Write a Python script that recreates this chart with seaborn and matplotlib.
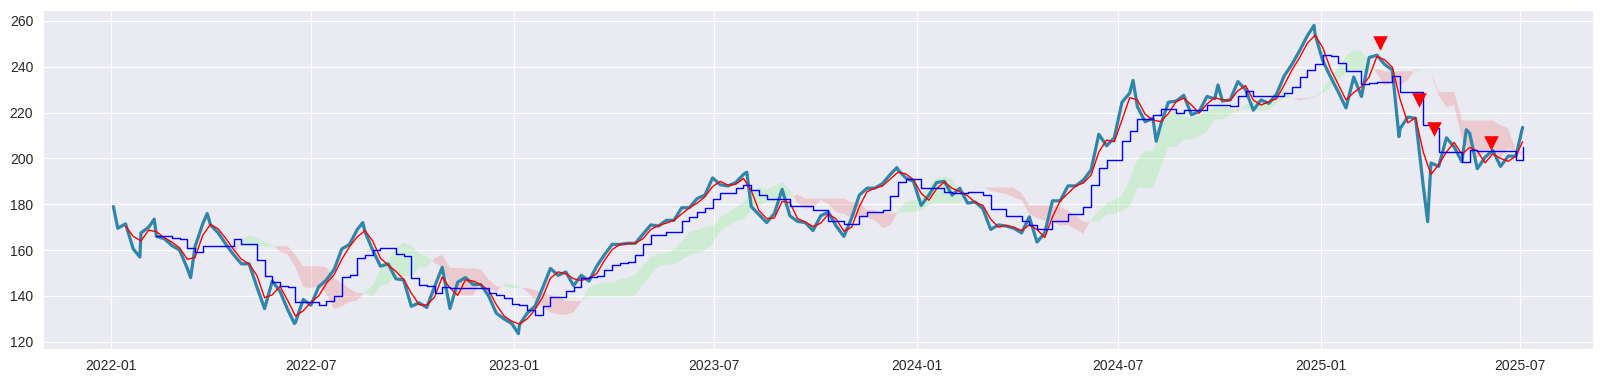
import numpy as np
import pandas as pd
import matplotlib
matplotlib.use('Agg')
import matplotlib.pyplot as plt
import matplotlib.dates as mdates
from matplotlib.ticker import MultipleLocator
import seaborn as sns

# Weekly (Friday) closes
close_2022 = [169.5, 171.5, 160.5, 167.5, 170.0, 166.0, 165.0, 162.0, 160.0, 152.0,
              161.5, 171.5, 171.0, 167.5, 162.5, 158.0, 154.0, 154.0, 144.0, 134.5,
              146.5, 142.0, 134.0, 128.5, 138.5, 136.0, 144.0, 147.0, 151.5, 160.5,
              162.5, 169.0, 168.0, 160.0, 153.0, 154.0, 147.5, 147.0, 135.5, 137.0,
              135.0, 144.0, 152.5, 134.5, 146.0, 148.0, 145.0, 145.0, 140.0, 132.5,
              130.0, 128.0]
close_2023 = [127.5, 132.5, 135.5, 143.5, 152.0, 149.0, 150.5, 144.5, 149.0, 146.5,
              153.0, 158.0, 162.5, 162.5, 163.0, 163.0, 167.0, 171.0, 170.5, 173.0,
              173.0, 178.5, 178.5, 182.5, 184.0, 191.5, 188.5, 188.0, 189.5, 193.0,
              179.0, 175.5, 172.0, 176.0, 186.5, 175.0, 172.5, 172.0, 168.5, 175.0,
              176.5, 170.5, 166.0, 174.0, 184.0, 187.0, 187.0, 189.0, 193.0, 195.0,
              191.5, 190.0]
close_2024 = [179.5, 184.0, 189.5, 190.0, 184.0, 187.0, 180.5, 181.0, 178.0, 169.0,
              171.0, 170.5, 169.5, 167.5, 174.5, 163.5, 167.5, 181.5, 181.5, 188.0,
              188.0, 190.5, 195.0, 210.5, 205.5, 209.0, 224.5, 228.5, 222.5, 216.0,
              217.5, 214.5, 224.5, 225.0, 227.5, 219.0, 220.5, 227.0, 226.0, 225.0,
              225.5, 233.5, 230.0, 221.0, 225.5, 224.0, 228.0, 236.0, 241.0, 247.0,
              253.5, 254.0]
close_2025 = [242.5, 235.5, 229.0, 222.0, 235.5, 227.0, 244.0, 245.0, 241.0, 238.5,
              213.0, 218.0, 217.5, 188.0, 198.0, 196.5, 209.0, 205.0, 198.5, 211.0,
              195.5, 200.5, 203.5, 196.5, 201.0, 201.0, 213.5]

# a few intra-week highs / lows visible on the chart
extra_days = ['2022-01-03', '2022-01-27', '2022-02-09', '2022-03-14', '2022-03-29',
              '2022-06-16', '2022-08-17', '2023-01-05', '2023-07-31', '2023-12-14',
              '2024-07-15', '2024-08-05', '2024-09-30', '2024-12-26', '2025-03-13',
              '2025-04-08', '2025-05-13']
extra_close = [179.0, 157.0, 173.5, 148.0, 176.0, 128.0, 172.0, 123.6, 194.0, 196.0,
               234.0, 207.5, 232.0, 258.0, 209.5, 172.4, 212.5]

# sell signals
sell_days = ['2025-02-24', '2025-03-31', '2025-04-14', '2025-06-04']
sell_marks = [250.3, 225.5, 212.9, 206.7]

dates = (list(pd.date_range('2022-01-07', periods=52, freq='W-FRI'))
         + list(pd.date_range('2023-01-06', periods=52, freq='W-FRI'))
         + list(pd.date_range('2024-01-05', periods=52, freq='W-FRI'))
         + list(pd.date_range('2025-01-03', periods=26, freq='W-FRI'))
         + [pd.Timestamp('2025-07-03')])
weekly = pd.Series(close_2022 + close_2023 + close_2024 + close_2025, index=pd.DatetimeIndex(dates))


def mid(s, n):
    return (s.rolling(n).max() + s.rolling(n).min()) / 2


# Ichimoku lines on weekly data
tenkan = mid(weekly, 2)
kijun = mid(weekly, 6)
span_a = ((tenkan + kijun) / 2).shift(5)
span_b = mid(weekly, 11).shift(5)

price = pd.concat([weekly, pd.Series(extra_close, index=pd.to_datetime(extra_days))]).sort_index()

sns.set_style('darkgrid')
plt.rcParams['font.family'] = ['Liberation Sans', 'DejaVu Sans']

fig, ax = plt.subplots(figsize=(16.02, 3.81), dpi=100)
fig.subplots_adjust(left=0.0268, right=0.9944, bottom=0.084, top=0.9738)

sns.lineplot(x=price.index, y=price.values, color='#2E86AB', linewidth=2.3, ax=ax)
sns.lineplot(x=weekly.index, y=tenkan.values, color='red', linewidth=1, ax=ax)
sns.lineplot(x=weekly.index, y=kijun.values, color='blue', linewidth=1,
             drawstyle='steps-post', ax=ax)

a = span_a.values
b = span_b.values
ax.fill_between(weekly.index, a, b, where=a >= b, color='lightgreen', alpha=0.3,
                interpolate=True, linewidth=0)
ax.fill_between(weekly.index, a, b, where=a < b, color='lightcoral', alpha=0.3,
                interpolate=True, linewidth=0)

sns.scatterplot(x=pd.to_datetime(sell_days), y=sell_marks, marker='v', color='red',
                s=110, linewidth=0, ax=ax, zorder=5)

ax.xaxis.set_major_locator(mdates.MonthLocator(bymonth=[1, 7]))
ax.xaxis.set_major_formatter(mdates.DateFormatter('%Y-%m'))
ax.yaxis.set_major_locator(MultipleLocator(20))
ax.tick_params(labelsize=10)
ax.set_xlabel('')
ax.set_ylabel('')

plt.savefig('out.png', dpi=100)
